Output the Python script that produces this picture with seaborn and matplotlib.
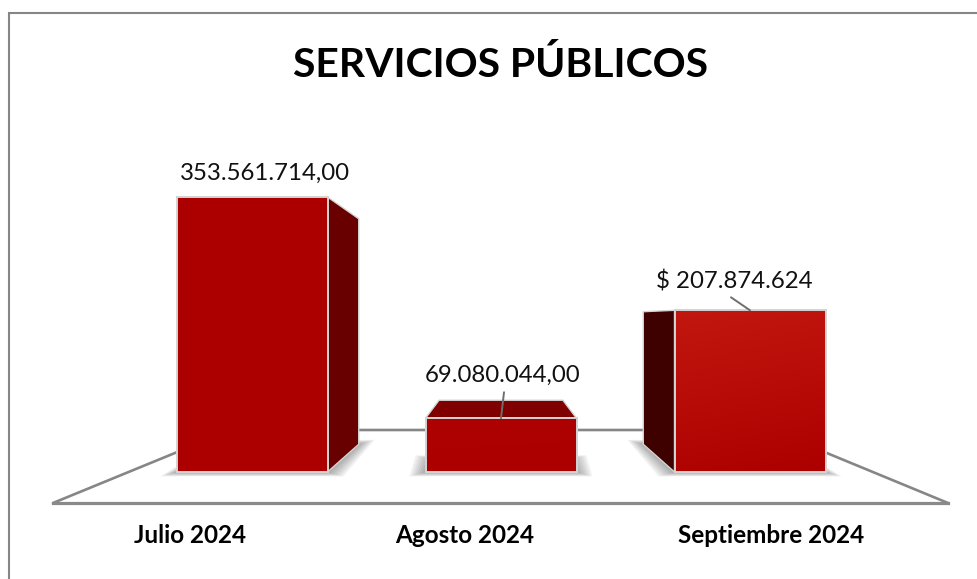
import matplotlib
matplotlib.use('Agg')
import matplotlib.pyplot as plt
from matplotlib.patches import Polygon, Rectangle
from matplotlib.colors import LinearSegmentedColormap
from matplotlib.transforms import ScaledTranslation
import numpy as np
import pandas as pd
import seaborn as sns

meses = ['Julio 2024', 'Agosto 2024', 'Septiembre 2024']
valores = [353561714.00, 69080044.00, 207874624]
etiquetas = ['353.561.714,00', '69.080.044,00', '$ 207.874.624']

W, H = 977, 579
PX_Y = 353561714.00 / 275  # pesos por pixel
PX_X = 1 / 249             # categorias por pixel

sns.set_style('white')
plt.rcParams['font.family'] = ['Lato', 'DejaVu Sans']

df = pd.DataFrame({'mes': meses, 'valor': valores})

fig = plt.figure(figsize=(W / 100, H / 100), dpi=100)
# eje: la linea frontal del piso es el borde inferior (y=503), de x=53 a x=948
ax = fig.add_axes([53 / W, (H - 503) / H, (948 - 53) / W, (503 - 130) / H])
sns.barplot(data=df, x='mes', y='valor', color='#AC0000', width=151 / 249,
            saturation=1, edgecolor='#D4D4D4', linewidth=1.4, zorder=5, ax=ax)
ax.set_xlabel('')
ax.set_ylabel('')
ax.set_yticks([])
ax.tick_params(axis='x', length=0, pad=15)
# las etiquetas del eje no quedan centradas bajo las barras en el original
corrimiento = [-62, -36.5, 21]
for lab, dx in zip(ax.get_xticklabels(), corrimiento):
    lab.set_fontsize(17.5)
    lab.set_fontweight('bold')
    lab.set_color('black')
    lab.set_transform(lab.get_transform() + ScaledTranslation(dx / 100, 0, fig.dpi_scale_trans))
sns.despine(ax=ax, left=True, right=True, top=True)
ax.spines['bottom'].set_color('#8A8A8A')
ax.spines['bottom'].set_linewidth(2.3)
ax.patch.set_alpha(0)

# piso en perspectiva
piso = np.array([[53, 503], [231, 430], [771, 430], [948, 503]], dtype=float)
piso_ax = np.column_stack([(piso[:, 0] - 53) / (948 - 53), (503 - piso[:, 1]) / (503 - 130)])
ax.plot(piso_ax[:, 0], piso_ax[:, 1], color='#868686', lw=1.9, transform=ax.transAxes,
        zorder=1, clip_on=False, solid_joinstyle='miter')

# punto de fuga y profundidad de las caras laterales
vx, vy = 1.0, 198e6
t = 0.18
def fondo(x, y, k=t):
    return x + (vx - x) * k, y + (vy - y) * k

caras = ['#680000', '#800000', '#3F0000']
topes = ['#AC0000', '#AE0000', '#C2170F']
yy, xx = np.mgrid[0:1:64j, 0:1:64j]
for i, bar in enumerate(ax.patches):
    x0, x1 = bar.get_x(), bar.get_x() + bar.get_width()
    h = bar.get_height()
    # sombra
    k = 0.08 if i == 1 else t
    base = np.array([(x0, 0), (x1, 0), fondo(x1, 0, k), fondo(x0, 0, k)])
    for d in range(1, 9):
        dx, dy = d * 2.0 * PX_X, d * 0.55 * PX_Y
        c = base + np.array([[-dx, -dy], [dx, -dy], [dx, dy], [-dx, dy]])
        ax.add_patch(Polygon(c, fc='#555555', ec='none', alpha=0.075, zorder=2))
    # cara lateral o superior
    if i == 0:
        cara = [(x1, h), fondo(x1, h), fondo(x1, 0), (x1, 0)]
    elif i == 1:
        cara = [(x0, h), fondo(x0, h), fondo(x1, h), (x1, h)]
    else:
        cara = [(x0, h), fondo(x0, h), fondo(x0, 0), (x0, 0)]
    ax.add_patch(Polygon(cara, fc=caras[i], ec='#D4D4D4', lw=1.0, zorder=4))
    # degradado del frente
    cmap = LinearSegmentedColormap.from_list('g', [topes[i], '#AC0000'])
    im = ax.imshow(0.85 * yy + 0.15 * xx, cmap=cmap, aspect='auto', vmin=0, vmax=1,
                   extent=(x0, x1, 0, h), origin='upper', zorder=5.5)
    im.set_clip_path(Rectangle((x0, 0), x1 - x0, h, transform=ax.transData))
    ax.add_patch(Rectangle((x0, 0), x1 - x0, h, fc='none', ec='#D4D4D4', lw=1.4, zorder=6))

ax.set_xlim((53 - 252) * PX_X, (948 - 252) * PX_X)
ax.set_ylim(-31 * PX_Y, 342 * PX_Y)

# etiquetas de datos, desplazamiento en pixeles
desp = [(13, 24), (2, 43), (-16, 29)]
for i, (v, txt) in enumerate(zip(valores, etiquetas)):
    ax.annotate(txt, xy=(i, v), xytext=(desp[i][0] * .72, desp[i][1] * .72),
                textcoords='offset points', ha='center', va='center',
                fontsize=17.3, color='#111111', zorder=8, annotation_clip=False)
# lineas guia
ax.annotate('', xy=(1, valores[1]), xytext=(3 * .72, 26 * .72), textcoords='offset points',
            arrowprops=dict(arrowstyle='-', color='#6E6E6E', lw=1.4, shrinkA=0, shrinkB=0), zorder=8)
ax.annotate('', xy=(2, valores[2]), xytext=(-19 * .72, 13 * .72), textcoords='offset points',
            arrowprops=dict(arrowstyle='-', color='#6E6E6E', lw=1.4, shrinkA=0, shrinkB=0), zorder=8)

fig.text(500.5 / W, 1 - 65 / H, 'SERVICIOS PÚBLICOS', ha='center', va='center',
         fontsize=29.4, fontweight='bold', color='black')

# marco exterior
fig.add_artist(Rectangle((9 / W, -2 / H), (W + 3 - 9) / W, (H + 2 - 13) / H, transform=fig.transFigure,
                         fc='none', ec='#868686', lw=1.5))

fig.savefig('out.png', dpi=100)
